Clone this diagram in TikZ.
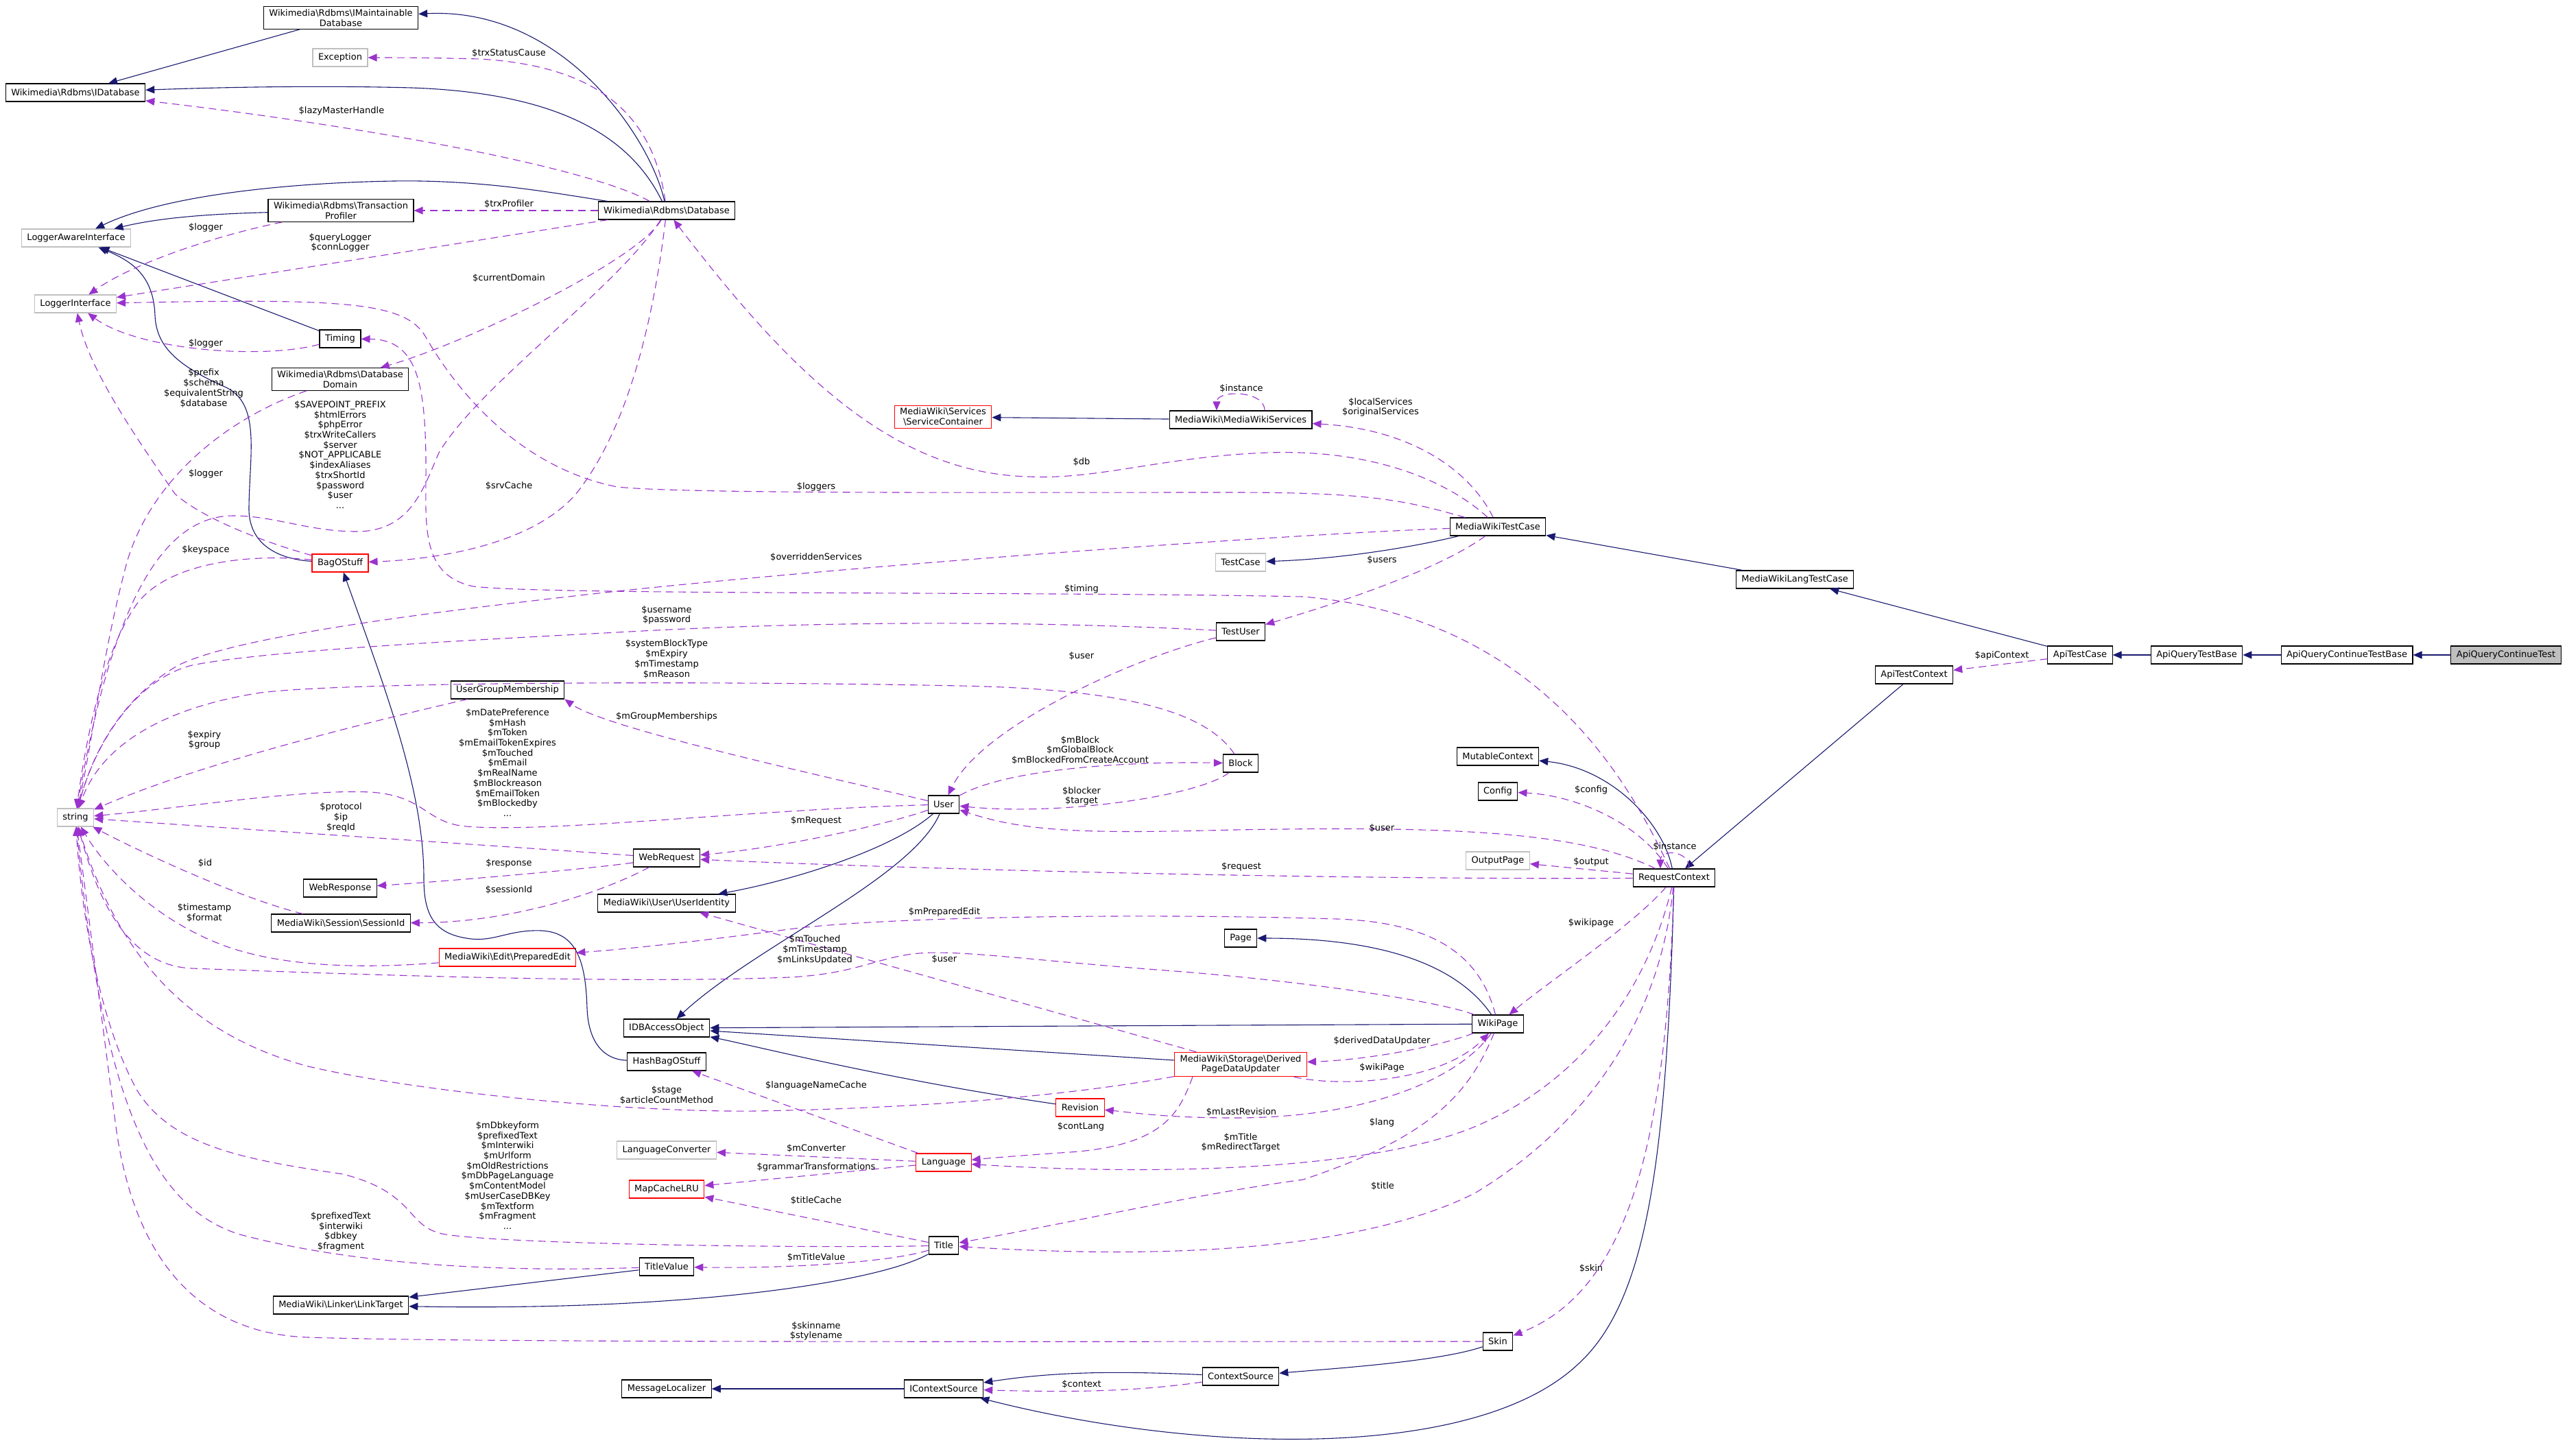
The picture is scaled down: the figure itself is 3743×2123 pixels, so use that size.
\documentclass[tikz,border=0pt]{standalone}
\usepackage{fontspec}
\setmainfont{DejaVu Sans}
\usetikzlibrary{arrows.meta}
\definecolor{inhcol}{HTML}{191970}
\definecolor{memcol}{HTML}{9A32CD}
\definecolor{greybox}{HTML}{BFBFBF}
\newcommand{\bsl}{\textbackslash}

\begin{document}
\begin{tikzpicture}[x=1pt,y=-1pt,
    every node/.style={font=\fontsize{13}{14.7}\selectfont},
    cls/.style={draw=black,line width=1.1pt,fill=white,rectangle,align=center,inner xsep=8pt,inner ysep=4pt,minimum height=26pt},
    clsgrey/.style={cls,draw=greybox},
    clsred/.style={cls,draw=red},
    lbl/.style={align=center,inner sep=0pt},
    inherit/.style={draw=inhcol,line width=1.1pt,-{Triangle[length=13pt,width=11pt]}},
    member/.style={draw=memcol,line width=1.1pt,dash pattern=on 11pt off 7pt,-{Triangle[length=13pt,width=11pt]}}]
  \useasboundingbox (0,0) rectangle (3743,2123);

  % classes
  \node[cls] (imaint) at (497,26) {Wikimedia\bsl Rdbms\bsl IMaintainable\\Database};
  \node[clsgrey] (exception) at (496,84) {Exception};
  \node[cls] (idb) at (110,135) {Wikimedia\bsl Rdbms\bsl IDatabase};
  \node[cls] (trxprof) at (497,307) {Wikimedia\bsl Rdbms\bsl Transaction\\Profiler};
  \node[cls] (db) at (972,307) {Wikimedia\bsl Rdbms\bsl Database};
  \node[clsgrey] (logaware) at (111,347) {LoggerAwareInterface};
  \node[clsgrey] (logif) at (110,443) {LoggerInterface};
  \node[cls] (timing) at (496,494) {Timing};
  \node[cls] (domain) at (496,553) {Wikimedia\bsl Rdbms\bsl Database\\Domain};
  \node[clsred] (bag) at (496,821) {BagOStuff};
  \node[clsred] (svccont) at (1375,608) {MediaWiki\bsl Services\\\bsl ServiceContainer};
  \node[cls] (mwservices) at (1809,612) {MediaWiki\bsl MediaWikiServices};
  \node[cls] (mwtest) at (2184,768) {MediaWikiTestCase};
  \node[clsgrey] (testcase) at (1809,820) {TestCase};
  \node[cls] (mwlangtest) at (2617,845) {MediaWikiLangTestCase};
  \node[cls] (apitest) at (3033,955) {ApiTestCase};
  \node[cls] (apiquery) at (3203,955) {ApiQueryTestBase};
  \node[cls] (apicontbase) at (3422,955) {ApiQueryContinueTestBase};
  \node[cls,fill=greybox] (apicont) at (3654,955) {ApiQueryContinueTest};
  \node[cls] (apictx) at (2791,984) {ApiTestContext};
  \node[cls] (testuser) at (1809,921) {TestUser};
  \node[cls] (ugm) at (740,1006) {UserGroupMembership};
  \node[cls] (block) at (1809,1113) {Block};
  \node[cls] (user) at (1376,1173) {User};
  \node[clsgrey] (string) at (110,1192) {string};
  \node[cls] (webreq) at (972,1251) {WebRequest};
  \node[cls] (webresp) at (496,1295) {WebResponse};
  \node[cls] (sessid) at (497,1346) {MediaWiki\bsl Session\bsl SessionId};
  \node[cls] (useridt) at (972,1317) {MediaWiki\bsl User\bsl UserIdentity};
  \node[clsred] (prepedit) at (740,1396) {MediaWiki\bsl Edit\bsl PreparedEdit};
  \node[cls] (mutctx) at (2184,1103) {MutableContext};
  \node[cls] (config) at (2184,1154) {Config};
  \node[clsgrey] (outpage) at (2184,1255) {OutputPage};
  \node[cls] (reqctx) at (2441,1280) {RequestContext};
  \node[cls] (page) at (1809,1368) {Page};
  \node[cls] (wikipage) at (2184,1493) {WikiPage};
  \node[cls] (idbao) at (972,1499) {IDBAccessObject};
  \node[cls] (hashbag) at (972,1548) {HashBagOStuff};
  \node[clsred] (updater) at (1809,1552) {MediaWiki\bsl Storage\bsl Derived\\PageDataUpdater};
  \node[clsred] (revision) at (1575,1615) {Revision};
  \node[clsgrey] (langconv) at (972,1677) {LanguageConverter};
  \node[clsred] (language) at (1376,1695) {Language};
  \node[clsred] (mapcache) at (972,1734) {MapCacheLRU};
  \node[cls] (title) at (1376,1816) {Title};
  \node[cls] (titleval) at (972,1847) {TitleValue};
  \node[cls] (linktarget) at (497,1903) {MediaWiki\bsl Linker\bsl LinkTarget};
  \node[cls] (skin) at (2184,1956) {Skin};
  \node[cls] (msgloc) at (972,2025) {MessageLocalizer};
  \node[cls] (icontext) at (1376,2025) {IContextSource};
  \node[cls] (ctxsrc) at (1809,2007) {ContextSource};

  % inheritance
  \draw[inherit] (db) .. controls (948,200) and (820,10) .. (imaint);
  \draw[inherit] (imaint) -- (idb);
  \draw[inherit] (db) .. controls (915,190) and (800,135) .. (600,128) .. controls (450,124) and (300,128) .. (idb);
  \draw[inherit] (db) .. controls (800,280) and (700,262) .. (574,264) .. controls (450,266) and (250,280) .. (logaware);
  \draw[inherit] (trxprof) .. controls (300,312) and (230,318) .. (logaware);
  \draw[inherit] (timing) -- (logaware);
  \draw[inherit] (bag) .. controls (400,815) and (362,790) .. (363,740) .. controls (364,660) and (380,590) .. (330,565) .. controls (250,530) and (228,500) .. (226,460) .. controls (224,400) and (190,380) .. (logaware);
  \draw[inherit] (hashbag) .. controls (880,1545) and (858,1520) .. (856,1470) .. controls (854,1400) and (840,1360) .. (790,1357) .. controls (740,1355) and (720,1375) .. (680,1368) .. controls (630,1360) and (618,1330) .. (618,1280) .. controls (618,1150) and (560,1000) .. (bag);
  \draw[inherit] (mwservices) -- (svccont);
  \draw[inherit] (mwtest) .. controls (2050,800) and (1950,815) .. (testcase);
  \draw[inherit] (mwlangtest) -- (mwtest);
  \draw[inherit] (apitest) -- (mwlangtest);
  \draw[inherit] (apiquery) -- (apitest);
  \draw[inherit] (apicontbase) -- (apiquery);
  \draw[inherit] (apicont) -- (apicontbase);
  \draw[inherit] (apictx) -- (reqctx);
  \draw[inherit] (reqctx) .. controls (2425,1200) and (2350,1120) .. (mutctx);
  \draw[inherit] (reqctx) .. controls (2430,1700) and (2400,1900) .. (2300,1990) .. controls (2150,2130) and (1750,2120) .. (icontext);
  \draw[inherit] (user) .. controls (1300,1240) and (1150,1285) .. (useridt);
  \draw[inherit] (user) .. controls (1330,1280) and (1100,1380) .. (idbao);
  \draw[inherit] (wikipage) .. controls (2120,1400) and (2000,1368) .. (page);
  \draw[inherit] (wikipage) -- (idbao);
  \draw[inherit] (updater) -- (idbao);
  \draw[inherit] (revision) .. controls (1300,1575) and (1100,1525) .. (idbao);
  \draw[inherit] (titleval) -- (linktarget);
  \draw[inherit] (title) .. controls (1280,1870) and (1000,1912) .. (linktarget);
  \draw[inherit] (skin) .. controls (2100,1985) and (1950,1995) .. (ctxsrc);
  \draw[inherit] (ctxsrc) .. controls (1650,2000) and (1550,1998) .. (icontext);
  \draw[inherit] (icontext) -- (msgloc);

  % members
  \draw[member] (db) .. controls (950,150) and (850,95) .. (700,86) .. controls (620,84) and (580,84) .. (exception);
  \draw[member] (db) .. controls (850,240) and (500,180) .. (idb);
  \draw[member] (db) -- (trxprof);
  \draw[member] (trxprof) .. controls (330,340) and (200,380) .. (logif);
  \draw[member] (db) -- (logif);
  \draw[member] (db) .. controls (930,380) and (680,500) .. (domain);
  \draw[member] (timing) .. controls (380,525) and (200,510) .. (logif);
  \draw[member] (domain) .. controls (330,610) and (220,700) .. (185,820) .. controls (150,950) and (135,1080) .. (string);
  \draw[member] (db) .. controls (900,420) and (700,560) .. (640,660) .. controls (618,710) and (600,775) .. (520,775) .. controls (450,775) and (400,752) .. (340,752) .. controls (230,752) and (160,900) .. (string);
  \draw[member] (bag) .. controls (400,795) and (300,760) .. (255,720) .. controls (200,640) and (130,540) .. (logif);
  \draw[member] (db) .. controls (955,450) and (920,620) .. (840,720) .. controls (780,790) and (650,815) .. (bag);
  \draw[member] (bag) .. controls (380,808) and (250,815) .. (200,880) .. controls (150,950) and (125,1080) .. (string);
  \draw[member] (mwtest) .. controls (2110,700) and (2000,655) .. (1850,660) .. controls (1700,665) and (1600,700) .. (1500,695) .. controls (1300,690) and (1150,540) .. (db);
  \draw[member] (mwtest) .. controls (2050,730) and (2000,718) .. (1800,718) .. controls (1400,718) and (1000,720) .. (900,710) .. controls (750,680) and (660,560) .. (620,490) .. controls (590,440) and (500,435) .. (logif);
  \draw[member] (mwtest) .. controls (2140,680) and (2050,625) .. (mwservices);
  \draw[member] ([xshift=35pt]mwservices.north) .. controls +(0,-30) and +(0,-30) .. ([xshift=-35pt]mwservices.north);
  \draw[member] (mwtest) .. controls (1900,778) and (1300,820) .. (900,862) .. controls (600,895) and (340,930) .. (260,970) .. controls (190,1010) and (140,1080) .. (string);
  \draw[member] (mwtest) .. controls (2100,830) and (1950,880) .. (testuser);
  \draw[member] (reqctx) .. controls (2380,1150) and (2250,900) .. (1900,870) .. controls (1500,862) and (800,868) .. (690,855) .. controls (620,840) and (620,780) .. (621,700) .. controls (622,560) and (610,495) .. (timing);
  \draw[member] (testuser) .. controls (1500,905) and (1200,905) .. (900,922) .. controls (650,935) and (380,950) .. (280,970) .. controls (200,990) and (140,1080) .. (string);
  \draw[member] (testuser) .. controls (1650,960) and (1430,1060) .. (user);
  \draw[member] (block) .. controls (1760,1040) and (1650,1005) .. (1400,1000) .. controls (1000,992) and (500,995) .. (380,1010) .. controls (250,1030) and (150,1080) .. (string);
  \draw[member] (ugm) .. controls (550,1050) and (300,1110) .. (string);
  \draw[member] (user) .. controls (1150,1120) and (880,1060) .. (ugm.south east);
  \draw[member] (user) .. controls (1100,1180) and (800,1215) .. (680,1205) .. controls (620,1200) and (620,1160) .. (540,1155) .. controls (440,1150) and (250,1180) .. (string);
  \draw[member] (user) .. controls (1470,1120) and (1650,1110) .. (block);
  \draw[member] (block) .. controls (1750,1160) and (1550,1190) .. (user);
  \draw[member] (user) .. controls (1300,1200) and (1150,1235) .. (webreq);
  \draw[member] (reqctx) .. controls (2300,1210) and (2100,1205) .. (1800,1210) .. controls (1600,1215) and (1500,1215) .. (user);
  \draw[member] (webreq) .. controls (750,1235) and (400,1212) .. (string);
  \draw[member] (webreq) .. controls (850,1268) and (650,1285) .. (webresp);
  \draw[member] (webreq) .. controls (880,1300) and (750,1345) .. (sessid);
  \draw[member] (sessid) .. controls (350,1310) and (200,1240) .. (string);
  \draw[member] (prepedit) .. controls (560,1410) and (430,1415) .. (330,1380) .. controls (220,1340) and (150,1260) .. (string);
  \draw[member] (reqctx) .. controls (2000,1283) and (1400,1270) .. (webreq);
  \draw[member] (reqctx) .. controls (2390,1200) and (2300,1160) .. (config);
  \draw[member] (reqctx) -- (outpage);
  \draw[member] ([xshift=22pt]reqctx.north) .. controls +(0,-28) and +(0,-28) .. ([xshift=-20pt]reqctx.north);
  \draw[member] (reqctx) .. controls (2380,1350) and (2260,1430) .. (wikipage);
  \draw[member] (wikipage) .. controls (2160,1400) and (2100,1345) .. (1950,1340) .. controls (1700,1332) and (1300,1335) .. (1150,1355) .. controls (1000,1375) and (900,1385) .. (prepedit);
  \draw[member] (wikipage) .. controls (2100,1460) and (1900,1430) .. (1700,1415) .. controls (1500,1400) and (1400,1385) .. (1340,1390) .. controls (1280,1395) and (1250,1420) .. (1150,1425) .. controls (900,1435) and (500,1420) .. (280,1412) .. controls (180,1408) and (140,1300) .. (string);
  \draw[member] (wikipage) .. controls (2100,1525) and (2000,1545) .. (updater);
  \draw[member] (updater) .. controls (1950,1585) and (2100,1580) .. (wikipage);
  \draw[member] (updater) -- (useridt);
  \draw[member] (updater) .. controls (1600,1590) and (1400,1615) .. (1100,1620) .. controls (900,1622) and (600,1590) .. (450,1555) .. controls (300,1515) and (180,1420) .. (string);
  \draw[member] ([xshift=-70pt]updater.south) .. controls (1720,1620) and (1700,1670) .. (1560,1680) .. controls (1500,1684) and (1450,1688) .. (language);
  \draw[member] (wikipage) .. controls (2130,1570) and (2000,1630) .. (1800,1630) .. controls (1700,1630) and (1650,1622) .. (revision);
  \draw[member] (wikipage) .. controls (2140,1600) and (2080,1660) .. (1900,1720) .. controls (1750,1740) and (1550,1785) .. (title);
  \draw[member] (reqctx) .. controls (2400,1450) and (2300,1580) .. (2150,1643) .. controls (2000,1705) and (1700,1715) .. (language);
  \draw[member] (reqctx) .. controls (2420,1500) and (2300,1650) .. (2150,1740) .. controls (1950,1840) and (1600,1830) .. (title);
  \draw[member] (reqctx) .. controls (2430,1650) and (2380,1880) .. (skin);
  \draw[member] (language) -- (hashbag);
  \draw[member] (language) -- (langconv);
  \draw[member] (language) -- (mapcache);
  \draw[member] (title) -- (mapcache);
  \draw[member] (title) .. controls (1200,1820) and (750,1815) .. (650,1800) .. controls (590,1790) and (610,1740) .. (500,1712) .. controls (350,1690) and (250,1670) .. (200,1590) .. controls (150,1500) and (120,1350) .. (string);
  \draw[member] (title) .. controls (1300,1840) and (1150,1850) .. (titleval);
  \draw[member] (titleval) .. controls (700,1856) and (500,1840) .. (350,1800) .. controls (220,1760) and (150,1600) .. (string);
  \draw[member] (skin) .. controls (1500,1956) and (700,1958) .. (450,1950) .. controls (300,1945) and (200,1850) .. (170,1650) .. controls (150,1500) and (125,1300) .. (string);
  \draw[member] (ctxsrc) .. controls (1650,2030) and (1550,2030) .. (icontext);
  \draw[member] (apitest) -- (apictx);

  % labels
  \node[lbl] (lTrxStatus) at (742,78) {\$trxStatusCause};
  \node[lbl] (lLazyMaster) at (498,162) {\$lazyMasterHandle};
  \node[lbl] (lTrxProfiler) at (742,298) {\$trxProfiler};
  \node[lbl] (lLoggerA) at (300,332) {\$logger};
  \node[lbl] (lQueryLogger) at (496,354) {\$queryLogger\\\$connLogger};
  \node[lbl] (lDomain) at (742,406) {\$currentDomain};
  \node[lbl] (lLoggerB) at (300,501) {\$logger};
  \node[lbl] (lPrefix) at (297,566) {\$prefix\\\$schema\\\$equivalentString\\\$database};
  \node[lbl] (lSavepoint) at (496,663) {\$SAVEPOINT\_PREFIX\\\$htmlErrors\\\$phpError\\\$trxWriteCallers\\\$server\\\$NOT\_APPLICABLE\\\$indexAliases\\\$trxShortId\\\$password\\\$user\\...};
  \node[lbl] (lLoggerC) at (300,691) {\$logger};
  \node[lbl] (lSrvCache) at (742,709) {\$srvCache};
  \node[lbl] (lKeyspace) at (300,802) {\$keyspace};
  \node[lbl] (lDb) at (1577,674) {\$db};
  \node[lbl] (lLoggers) at (1190,710) {\$loggers};
  \node[lbl] (lServices) at (2013,594) {\$localServices\\\$originalServices};
  \node[lbl] (lInstanceA) at (1810,567) {\$instance};
  \node[lbl] (lOverridden) at (1190,813) {\$overriddenServices};
  \node[lbl] (lUsers) at (2015,817) {\$users};
  \node[lbl] (lTiming) at (1577,859) {\$timing};
  \node[lbl] (lUsername) at (972,897) {\$username\\\$password};
  \node[lbl] (lUserA) at (1577,957) {\$user};
  \node[lbl] (lBlockType) at (972,961) {\$systemBlockType\\\$mExpiry\\\$mTimestamp\\\$mReason};
  \node[lbl] (lExpiry) at (298,1079) {\$expiry\\\$group};
  \node[lbl] (lGroups) at (972,1045) {\$mGroupMemberships};
  \node[lbl] (lUserFields) at (740,1112) {\$mDatePreference\\\$mHash\\\$mToken\\\$mEmailTokenExpires\\\$mTouched\\\$mEmail\\\$mRealName\\\$mBlockreason\\\$mEmailToken\\\$mBlockedby\\...};
  \node[lbl] (lBlocks) at (1575,1094) {\$mBlock\\\$mGlobalBlock\\\$mBlockedFromCreateAccount};
  \node[lbl] (lBlocker) at (1577,1161) {\$blocker\\\$target};
  \node[lbl] (lMRequest) at (1190,1197) {\$mRequest};
  \node[lbl] (lUserB) at (2015,1207) {\$user};
  \node[lbl] (lProtocol) at (497,1192) {\$protocol\\\$ip\\\$reqId};
  \node[lbl] (lResponse) at (742,1259) {\$response};
  \node[lbl] (lSessionId) at (742,1297) {\$sessionId};
  \node[lbl] (lId) at (299,1258) {\$id};
  \node[lbl] (lTimestamp) at (298,1331) {\$timestamp\\\$format};
  \node[lbl] (lRequest) at (1810,1264) {\$request};
  \node[lbl] (lConfig) at (2320,1152) {\$config};
  \node[lbl] (lOutput) at (2320,1257) {\$output};
  \node[lbl] (lInstanceB) at (2442,1235) {\$instance};
  \node[lbl] (lWikipage) at (2320,1346) {\$wikipage};
  \node[lbl] (lPrepared) at (1377,1330) {\$mPreparedEdit};
  \node[lbl] (lTouched) at (1188,1385) {\$mTouched\\\$mTimestamp\\\$mLinksUpdated};
  \node[lbl] (lDerived) at (2015,1518) {\$derivedDataUpdater};
  \node[lbl] (lWikiPageB) at (2015,1557) {\$wikiPage};
  \node[lbl] (lUserC) at (1377,1398) {\$user};
  \node[lbl] (lStage) at (972,1597) {\$stage\\\$articleCountMethod};
  \node[lbl] (lContLang) at (1576,1643) {\$contLang};
  \node[lbl] (lLastRev) at (1810,1621) {\$mLastRevision};
  \node[lbl] (lMTitle) at (1809,1666) {\$mTitle\\\$mRedirectTarget};
  \node[lbl] (lLang) at (2015,1637) {\$lang};
  \node[lbl] (lTitle) at (2016,1729) {\$title};
  \node[lbl] (lSkin) at (2320,1849) {\$skin};
  \node[lbl] (lLangName) at (1190,1583) {\$languageNameCache};
  \node[lbl] (lConverter) at (1190,1674) {\$mConverter};
  \node[lbl] (lGrammar) at (1190,1702) {\$grammarTransformations};
  \node[lbl] (lTitleCache) at (1190,1750) {\$titleCache};
  \node[lbl] (lTitleFields) at (740,1714) {\$mDbkeyform\\\$prefixedText\\\$mInterwiki\\\$mUrlform\\\$mOldRestrictions\\\$mDbPageLanguage\\\$mContentModel\\\$mUserCaseDBKey\\\$mTextform\\\$mFragment\\...};
  \node[lbl] (lTitleValue) at (1190,1833) {\$mTitleValue};
  \node[lbl] (lPrefixed) at (497,1796) {\$prefixedText\\\$interwiki\\\$dbkey\\\$fragment};
  \node[lbl] (lSkinName) at (1190,1941) {\$skinname\\\$stylename};
  \node[lbl] (lContext) at (1577,2018) {\$context};
  \node[lbl] (lApiContext) at (2919,956) {\$apiContext};
\end{tikzpicture}
\end{document}
